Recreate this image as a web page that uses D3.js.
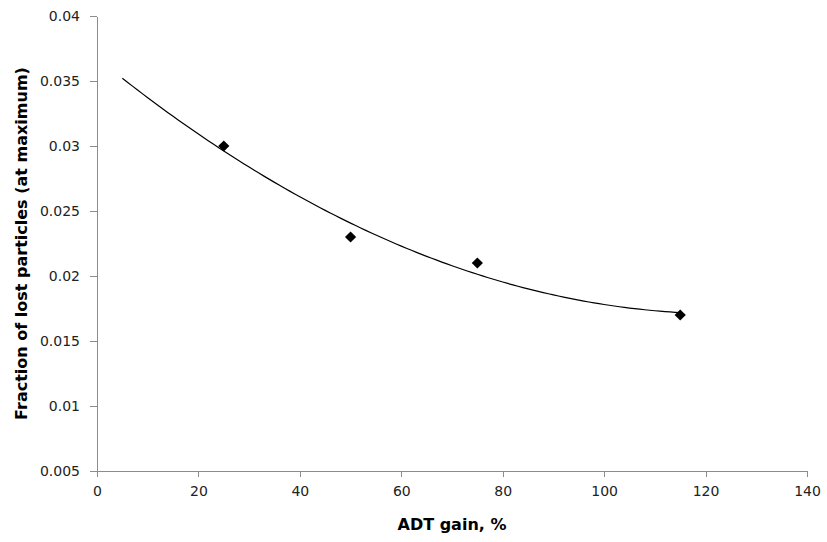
<!DOCTYPE html>
<html>
<head>
<meta charset="utf-8">
<script src="https://cdn.jsdelivr.net/npm/d3@7"></script>
<style>
  body { margin: 0; background: #fff; }
  .axis text { font-family: "DejaVu Sans", sans-serif; font-size: 14px; fill: #222; }
  .axis path, .axis line { stroke: #8c8c8c; }
  .title { font-family: "DejaVu Sans", sans-serif; font-size: 16px; font-weight: bold; fill: #000; }
</style>
</head>
<body>
<div class="chart"></div>
<script>
// data
var gain = [25, 50, 75, 115];
var lostFraction = [0.030, 0.023, 0.021, 0.017];
var xTicks = [0, 20, 40, 60, 80, 100, 120, 140];
var yTicks = [0.005, 0.01, 0.015, 0.02, 0.025, 0.03, 0.035, 0.04];
var trendRange = [5, 115]; // polynomial (order 2) trendline, forecast back to 5

var margin = {top: 16, right: 20, bottom: 71, left: 97},
    width = 827 - margin.left - margin.right,
    height = 542 - margin.top - margin.bottom;

var svg = d3.select(".chart").append("svg")
    .attr("width", 827)
    .attr("height", 542)
  .append("g")
    .attr("transform", "translate(" + margin.left + "," + margin.top + ")");

var x = d3.scaleLinear().domain([0, 140]).range([0, width]);
var y = d3.scaleLinear().domain([0.005, 0.04]).range([height, 0]);

// least squares quadratic fit, like the spreadsheet trendline
function quadFit(xs, ys) {
    var S = [0, 0, 0, 0, 0], T = [0, 0, 0];
    xs.forEach(function (xi, i) {
        for (var k = 0; k < 5; k++) S[k] += Math.pow(xi, k);
        for (var k = 0; k < 3; k++) T[k] += ys[i] * Math.pow(xi, k);
    });
    var M = [[S[0], S[1], S[2], T[0]], [S[1], S[2], S[3], T[1]], [S[2], S[3], S[4], T[2]]];
    for (var c = 0; c < 3; c++) {
        for (var r = c + 1; r < 3; r++) {
            var f = M[r][c] / M[c][c];
            for (var k = c; k < 4; k++) M[r][k] -= f * M[c][k];
        }
    }
    var coef = [0, 0, 0];
    for (var r = 2; r >= 0; r--) {
        var s = M[r][3];
        for (var k = r + 1; k < 3; k++) s -= M[r][k] * coef[k];
        coef[r] = s / M[r][r];
    }
    return coef;
}

var coef = quadFit(gain, lostFraction);
var trendX = d3.range(trendRange[0], trendRange[1] + 0.5, 1);

// axes
svg.append("g")
    .attr("class", "axis")
    .attr("transform", "translate(0," + height + ")")
    .call(d3.axisBottom(x).tickValues(xTicks).tickSize(6).tickSizeOuter(6).tickPadding(9));

svg.append("g")
    .attr("class", "axis")
    .call(d3.axisLeft(y).tickValues(yTicks).tickSize(7).tickSizeOuter(0).tickPadding(10)
        .tickFormat(function (d) { return +d.toFixed(3); }));

svg.selectAll(".axis path").attr("shape-rendering", "crispEdges");
svg.selectAll(".axis line").attr("shape-rendering", "crispEdges");

// trendline
svg.append("path")
    .datum(trendX)
    .attr("fill", "none")
    .attr("stroke", "#000")
    .attr("stroke-width", 1.2)
    .attr("d", d3.line()
        .x(function (d) { return x(d); })
        .y(function (d) { return y(coef[0] + coef[1] * d + coef[2] * d * d); }));

// markers
svg.selectAll(".dot")
    .data(gain)
    .enter().append("path")
    .attr("class", "dot")
    .attr("d", d3.symbol().type(d3.symbolDiamond2).size(80))
    .attr("fill", "#000")
    .attr("transform", function (d, i) {
        return "translate(" + x(d) + "," + y(lostFraction[i]) + ")";
    });

// axis titles
svg.append("text")
    .attr("class", "title")
    .attr("text-anchor", "middle")
    .attr("x", width / 2)
    .attr("y", height + 59)
    .text("ADT gain, %");

svg.append("text")
    .attr("class", "title")
    .attr("text-anchor", "middle")
    .attr("transform", "translate(" + (-70) + "," + (height / 2) + ") rotate(-90)")
    .text("Fraction of lost particles (at maximum)");
</script>
</body>
</html>
